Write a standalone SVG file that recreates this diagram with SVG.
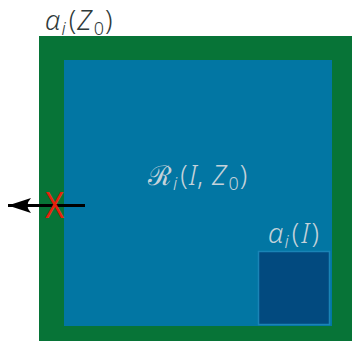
<svg xmlns="http://www.w3.org/2000/svg" width="352" height="341" viewBox="0 0 352 341">
<style>
.lbl{font-family:"Noto Sans","DejaVu Sans",sans-serif;font-size:27px;font-weight:300}
.it{font-style:italic}
.sub{font-size:18px}
.cal{font-family:"DejaVu Sans",sans-serif;font-weight:300}
</style>
<defs>
<marker id="ah" markerUnits="userSpaceOnUse" markerWidth="26" markerHeight="18" refX="24" refY="9" orient="auto">
<path d="M24,9 L1,1.5 Q8,9 1,16.5 Z" fill="#000"/>
</marker>
</defs>
<rect width="352" height="341" fill="#fff"/>
<g id="outer">
<rect x="39" y="36" width="320" height="310" fill="#077437"/>
<text class="lbl" x="45" y="30" fill="#2f3a3a"><tspan class="it">α</tspan><tspan class="it sub" dx="1" dy="5">i</tspan><tspan dx="3" dy="-5">(</tspan><tspan class="it" dx="1">Z</tspan><tspan class="sub" dx="2" dy="5">0</tspan><tspan dx="1" dy="-5">)</tspan></text>
</g>
<g id="region">
<rect x="64" y="60" width="268" height="266" fill="#0276a3"/>
<text class="lbl" x="148" y="185" fill="#c4d2da" font-size="29"><tspan class="cal">ℛ</tspan><tspan class="it sub" dx="1" dy="5">i</tspan><tspan dx="3" dy="-5">(</tspan><tspan class="it" dx="1">I</tspan><tspan>, </tspan><tspan class="it" dx="2">Z</tspan><tspan class="sub" dx="2" dy="5">0</tspan><tspan dx="1" dy="-5">)</tspan></text>
</g>
<g id="inner">
<rect x="258.5" y="251.5" width="71" height="73" fill="#024a7f" stroke="#1a84b6" stroke-width="1.5"/>
<text class="lbl" x="268" y="243" fill="#c4d2da"><tspan class="it">α</tspan><tspan class="it sub" dx="1" dy="5">i</tspan><tspan dx="3" dy="-5">(</tspan><tspan class="it" dx="2">I</tspan><tspan dx="2">)</tspan></text>
</g>
<g id="connectors">
<line x1="85" y1="205.5" x2="8" y2="205.5" stroke="#000" stroke-width="3" marker-end="url(#ah)"/>
</g>
<g id="cross">
<text x="44.5" y="218" font-family="Liberation Sans,sans-serif" font-size="36" fill="#e8200c" textLength="20" lengthAdjust="spacingAndGlyphs">X</text>
</g>
</svg>
